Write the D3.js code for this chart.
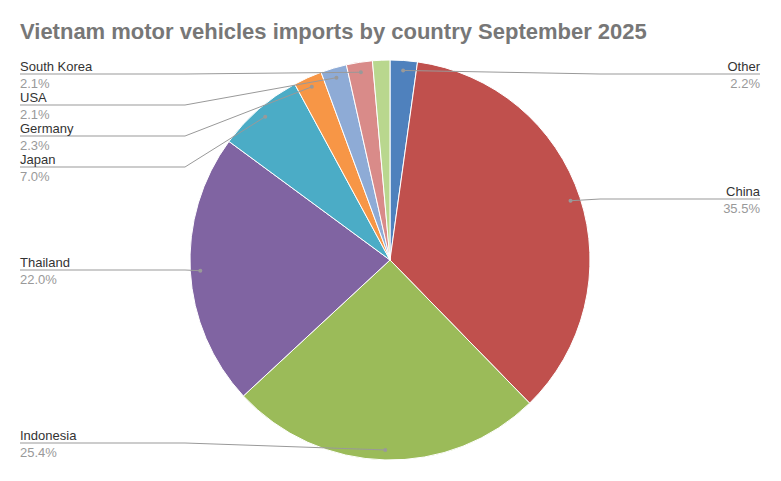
<!DOCTYPE html>
<html><head><meta charset="utf-8">
<script src="https://cdn.jsdelivr.net/npm/d3@7"></script>
<style>body{margin:0;background:#fff;font-family:"Liberation Sans",Arial,sans-serif}</style>
</head><body><svg id="c" width="781" height="481"></svg>
<script>
const categories=["Other","China","Indonesia","Thailand","Japan","Germany","USA","South Korea",""];
const values=[2.2,35.5,25.4,22.0,7.0,2.3,2.1,2.1,1.4];
const labelY=[74,199,443,270,167,136,105,74,null];
const colors=["#4f81bd","#c0504d","#9bbb59","#8064a2","#4bacc6","#f79646","#8eabd6","#d98b89","#b9d78e"];
const svg=d3.select("#c");
svg.append("text").attr("x",20).attr("y",39).attr("font-size",22).attr("font-weight","bold").attr("fill","#777").text("Vietnam motor vehicles imports by country September 2025");
const cx=390,cy=260,r=200;
const pie=d3.pie().sort(null).value(d=>d)(values);
const arc=d3.arc().innerRadius(0).outerRadius(r);
const g=svg.append("g").attr("transform",`translate(${cx},${cy})`);
g.selectAll("path").data(pie).join("path").attr("d",arc).attr("fill",(d,i)=>colors[i]).attr("stroke","#fff").attr("stroke-width",1);
pie.forEach((d,i)=>{
  if(!categories[i])return;
  const a=(d.startAngle+d.endAngle)/2;
  const px=cx+0.95*r*Math.sin(a),py=cy-0.95*r*Math.cos(a);
  const left=a>Math.PI;
  const ly=labelY[i];
  const pts=left?[[px,py],[185,ly],[20,ly]]:[[px,py],[600,ly],[760,ly]];
  svg.append("polyline").attr("points",pts.map(p=>p.join(",")).join(" ")).attr("fill","none").attr("stroke","#999").attr("stroke-width",1);
  svg.append("circle").attr("cx",px).attr("cy",py).attr("r",2).attr("fill","#999");
  const anchor=left?"start":"end",tx=left?20:760;
  svg.append("text").attr("x",tx).attr("y",ly-3).attr("text-anchor",anchor).attr("font-size",13).attr("fill","#333").text(categories[i]);
  svg.append("text").attr("x",tx).attr("y",ly+14).attr("text-anchor",anchor).attr("font-size",13).attr("fill","#999").text(values[i].toFixed(1)+"%");
});
</script></body></html>
